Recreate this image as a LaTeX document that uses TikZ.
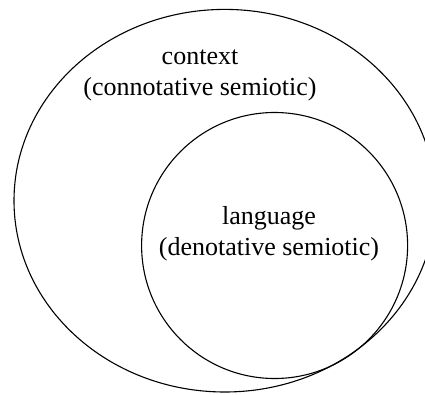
\documentclass[tikz,border=0pt]{standalone}
\usepackage{fontspec}
\setmainfont{Liberation Serif}
\begin{document}
\begin{tikzpicture}[x=1pt,y=1pt,
  ring/.style={draw=black,line width=1.1pt},
  caption/.style={font=\fontsize{26}{31}\selectfont,align=center,inner sep=0pt}]
\useasboundingbox (0,0) rectangle (425,394);
% outer region: context
\draw[ring] (224.8,193.3) ellipse [x radius=210.8, y radius=191.3];
% inner region: language
\draw[ring] (274.6,148.5) circle [radius=133];
\node[caption] (ctx) at (200,319) {context\\(connotative semiotic)};
\node[caption] (lang) at (269,160) {language\\(denotative semiotic)};
\end{tikzpicture}
\end{document}
